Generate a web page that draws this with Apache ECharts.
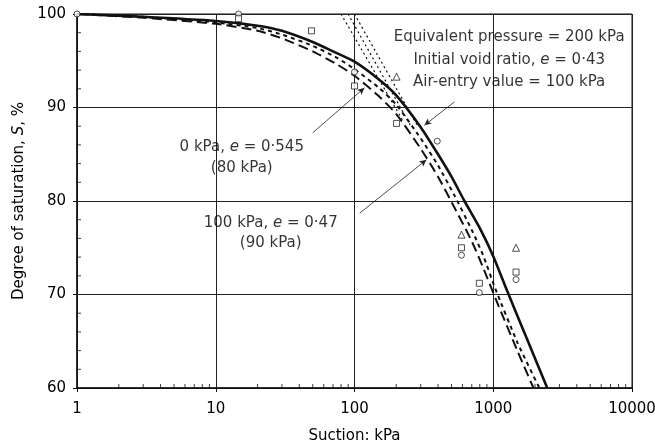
<!DOCTYPE html>
<html><head><meta charset="utf-8">
<script src="https://cdn.jsdelivr.net/npm/echarts@6/dist/echarts.min.js"></script>
<style>html,body{margin:0;padding:0;background:#fff}#c{width:655px;height:448px}</style>
</head><body><div id="c"></div>
<script>
// ---- data (suction kPa, degree of saturation %) ----
const solidCurve = [[1,100],[3,99.7],[10,99.25],[20,98.75],[30,98.2],[50,97.0],[70,96.0],[100,94.9],[150,93.0],[200,91.3],[300,87.9],[400,85.0],[500,82.6],[620,80.0],[800,77.1],[1000,74.1],[1250,70.5],[1800,64.8],[2450,60]];
const longDashCurve = [[1,100],[3,99.6],[10,98.95],[20,98.2],[30,97.4],[50,96.0],[75,94.6],[100,93.4],[150,91.2],[200,89.3],[300,85.6],[400,82.6],[525,79.3],[700,75.7],[850,72.8],[1050,69.4],[1500,63.9],[1950,60]];
const shortDashCurve = [[1,100],[3,99.7],[10,99.1],[20,98.5],[30,97.8],[50,96.6],[75,95.3],[100,94.1],[150,92.1],[200,90.3],[300,86.7],[400,83.8],[525,80.6],[700,76.9],[850,74.1],[1030,70.7],[1500,64.8],[2150,60]];
const tangent80 = [[80,100],[225,88.5]];
const tangent90 = [[90,100],[255,88]];
const tangent100 = [[100,100],[285,88]];
const circlePts = [[1,100],[14.6,100],[100,93.8],[395,86.4],[590,74.2],[794,70.2],[1460,71.6]];
const squarePts = [[14.6,99.5],[49,98.2],[100,92.3],[201,88.3],[590,75],[794,71.2],[1460,72.4]];
const trianglePts = [[201,93.3],[590,76.4],[1460,75.0]];
const leader1 = [[50,87.3],[118,92.1]];
const leader2 = [[109,78.7],[330,84.4]];
const leader3 = [[525,90.6],[319,88.1]];
const xMinorTicks = [2,3,4,5,6,7,8,9,20,30,40,50,60,70,80,90,200,300,400,500,600,700,800,900,2000,3000,4000,5000,6000,7000,8000,9000];
const yMinorTicks = [62,64,66,68,72,74,76,78,82,84,86,88,92,94,96,98];
const xTicks = [1,10,100,1000,10000];
const yTicks = [60,70,80,90,100];
const noteMain = [1303,95.1];
const note0kPa = [15.4,84.65];
const note100kPa = [24.9,76.6];

const FONT = 'DejaVu Sans';
const chart = echarts.init(document.getElementById('c'), null, {renderer:'canvas'});
const txt = {fontFamily:FONT, fontSize:15, color:'#000'};
const rich = {n:{...txt}, i:{...txt, fontStyle:'italic'}};
function noteSeries(pos, fmt, lh){
  return {type:'scatter', data:[pos], symbolSize:0, silent:true, z:5,
    label:{show:true, position:'inside', formatter:fmt, align:'center', verticalAlign:'middle',
      lineHeight:lh, rich:Object.fromEntries(Object.entries(rich).map(([k,v])=>[k,{...v,lineHeight:lh}]))}};
}
function curve(data, type, width){
  return {type:'line', data, showSymbol:false, smooth:0.2, silent:true, z:3,
    lineStyle:{color:'#111', width, type}};
}
function marks(data, symbol, size){
  return {type:'scatter', data, symbol, symbolSize:size, z:4, silent:true,
    itemStyle:{color:'#fff', borderColor:'#222', borderWidth:1}};
}
const option = {
  animation:false,
  backgroundColor:'#fff',
  grid:{left:77, right:23, top:14, bottom:60, outerBoundsMode:'none', containLabel:false, show:true, borderColor:'#111', borderWidth:1},
  xAxis:{type:'log', logBase:10, min:xTicks[0], max:xTicks[xTicks.length-1],
    name:'Suction: kPa', nameLocation:'middle', nameGap:41,
    nameTextStyle:{...txt},
    axisLine:{show:true, lineStyle:{color:'#111', width:1.5}},
    axisTick:{show:true, length:4, lineStyle:{color:'#111'}},
    axisLabel:{...txt, margin:14, formatter:v=>String(Math.round(v))},
    splitLine:{show:true, lineStyle:{color:'#222', width:1}},
    minorTick:{show:false}},
  yAxis:{type:'value', min:yTicks[0], max:yTicks[yTicks.length-1], interval:10,
    name:'{n|Degree of saturation, }{i|S}{n|, %}', nameLocation:'middle', nameGap:50, nameRotate:90,
    nameTextStyle:{...txt, rich},
    axisLine:{show:true, lineStyle:{color:'#111', width:1.5}},
    axisTick:{show:true, length:4, lineStyle:{color:'#111'}},
    axisLabel:{...txt, margin:11},
    splitLine:{show:true, lineStyle:{color:'#222', width:1}}},
  series:[
    {type:'scatter', data:xMinorTicks.map(v=>[v,yTicks[0]]), symbol:'rect', symbolSize:[1,4], symbolOffset:[0,-2], itemStyle:{color:'#111'}, silent:true, z:2},
    {type:'scatter', data:yMinorTicks.map(v=>[xTicks[0],v]), symbol:'rect', symbolSize:[4,1], symbolOffset:[2,0], itemStyle:{color:'#111'}, silent:true, z:2},
    curve(tangent80,[2,3],1.2),
    curve(tangent90,[2,3],1.2),
    curve(tangent100,[2,3],1.2),
    curve(longDashCurve,[10,5],2),
    curve(shortDashCurve,[4,4],2),
    curve(solidCurve,'solid',2.6),
    marks(circlePts,'circle',6),
    marks(squarePts,'rect',6),
    marks(trianglePts,'triangle',7),
    {type:'line', data:[], silent:true,
      markLine:{silent:true, symbol:['none','arrow'], symbolSize:[5,7], label:{show:false},
        lineStyle:{color:'#222', width:0.8, type:'solid'},
        data:[leader1,leader2,leader3].map(l=>[{coord:l[0]},{coord:l[1]}])}},
    noteSeries(noteMain, '{n|Equivalent pressure = 200 kPa}\n{n|Initial void ratio, }{i|e}{n| = 0·43}\n{n|Air-entry value = 100 kPa}', 22.5),
    noteSeries(note0kPa, '{n|0 kPa, }{i|e}{n| = 0·545}\n{n|(80 kPa)}', 21),
    noteSeries(note100kPa, '{n|100 kPa, }{i|e}{n| = 0·47}\n{n|(90 kPa)}', 20)
  ]
};
chart.setOption(option);
</script></body></html>
